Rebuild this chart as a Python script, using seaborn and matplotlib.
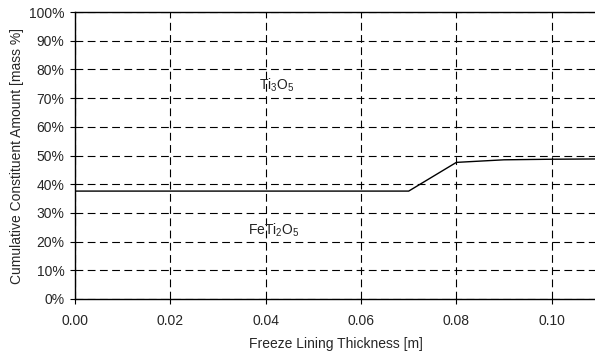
import matplotlib
matplotlib.use("Agg")
import matplotlib.pyplot as plt
import seaborn as sns
import pandas as pd
from matplotlib.ticker import PercentFormatter, MultipleLocator

thickness = [0.00, 0.01, 0.02, 0.03, 0.04, 0.05, 0.06, 0.07, 0.08, 0.09, 0.10, 0.11]
cumulative = [37.6, 37.6, 37.6, 37.6, 37.6, 37.6, 37.6, 37.6, 47.6, 48.5, 48.7, 48.8]
labels = ["Ti$_3$O$_5$", "FeTi$_2$O$_5$"]
label_x = [0.0423, 0.0418]
label_y = [74.5, 24.0]

sns.set_style("white")
plt.rcParams['font.family'] = ['Liberation Sans', 'DejaVu Sans']
plt.rcParams['font.size'] = 10
plt.rcParams['mathtext.fontset'] = 'custom'
plt.rcParams['mathtext.rm'] = 'Liberation Sans'
plt.rcParams['mathtext.it'] = 'Liberation Sans'

fig = plt.figure(figsize=(5.95, 3.56), dpi=100)
ax = fig.add_axes([75/595, 1 - 299/356, 522/595, 287/356])

df = pd.DataFrame({"x": thickness, "y": cumulative})
sns.lineplot(data=df, x="x", y="y", ax=ax, color="black", linewidth=1.0)

ax.set_xlim(0, 0.1095)
ax.set_ylim(0, 100)
ax.xaxis.set_major_locator(MultipleLocator(0.02))
ax.yaxis.set_major_locator(MultipleLocator(10))
ax.yaxis.set_major_formatter(PercentFormatter(decimals=0))
ax.xaxis.set_major_formatter(matplotlib.ticker.FormatStrFormatter('%.2f'))

ax.grid(True, color="black", linestyle=(0, (7, 4)), linewidth=0.8)
for s in ["left", "bottom", "top"]:
    ax.spines[s].set_visible(True)
    ax.spines[s].set_color("black")
    ax.spines[s].set_linewidth(1.0)
ax.spines["right"].set_visible(False)
ax.tick_params(axis="both", direction="out", length=3.5, width=0.8, color="black",
               labelsize=10, left=True, bottom=True)
ax.tick_params(axis="x", pad=7)
ax.tick_params(axis="y", pad=4)

ax.set_xlabel("Freeze Lining Thickness [m]", fontsize=10, labelpad=7)
ax.set_ylabel("Cumulative Constituent Amount [mass %]", fontsize=10, labelpad=4)

for t, lx, ly in zip(labels, label_x, label_y):
    ax.text(lx, ly, t, ha="center", va="center", fontsize=10, color="#222222")

fig.savefig("out.png", dpi=100)
